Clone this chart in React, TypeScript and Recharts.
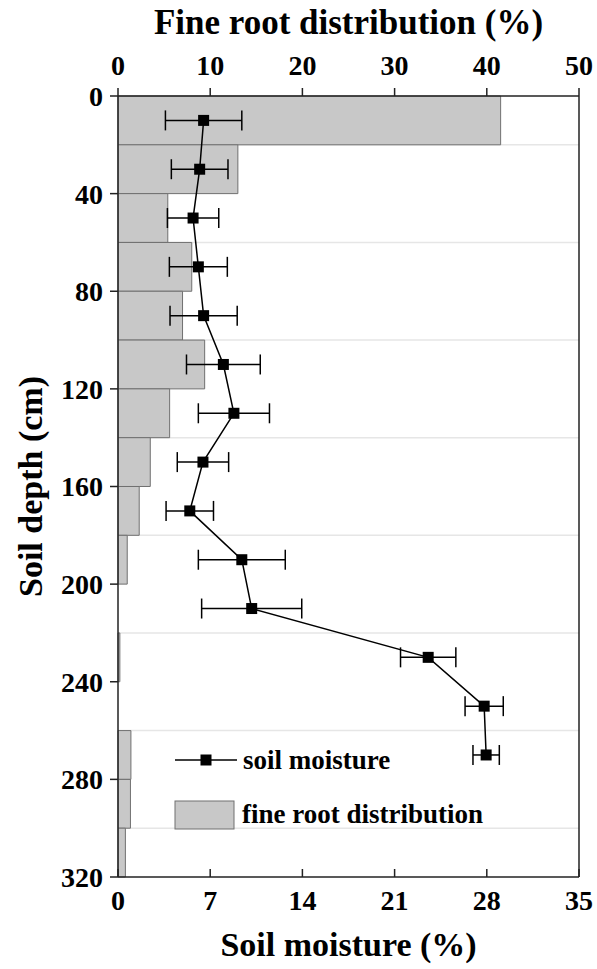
import {
  ComposedChart,
  Bar,
  Line,
  XAxis,
  YAxis,
  ErrorBar,
  CartesianGrid,
  ReferenceLine,
} from 'recharts';

// layer mid depths (cm)
const depths = [10, 30, 50, 70, 90, 110, 130, 150, 170, 190, 210, 230, 250, 270, 290, 310];
// fine root distribution (%) per 20 cm layer
const fineRoot = [41.5, 13.0, 5.4, 8.0, 7.0, 9.4, 5.6, 3.5, 2.3, 1.0, 0, 0.2, 0, 1.4, 1.35, 0.8];
// soil moisture (%) and its error, measured down to 270 cm
const moisture = [6.5, 6.2, 5.7, 6.1, 6.5, 8.0, 8.8, 6.45, 5.45, 9.4, 10.15, 23.55, 27.8, 27.95];
const moistureErr = [2.9, 2.15, 1.95, 2.2, 2.55, 2.8, 2.7, 1.95, 1.8, 3.3, 3.8, 2.1, 1.45, 1.0];

const depthTicks = [0, 40, 80, 120, 160, 200, 240, 280, 320];
const gridDepths = [20, 60, 100, 140, 180, 220, 260, 300];
const rootTicks = [0, 10, 20, 30, 40, 50];
const moistTicks = [0, 7, 14, 21, 28, 35];

const data = depths.map((d, i) => ({
  depth: d,
  root: fineRoot[i],
  moisture: moisture[i],
  err: moistureErr[i],
}));

const FONT = '"Liberation Serif", "Times New Roman", serif';
const tickStyle = { fontSize: 28, fontWeight: 'bold', fill: '#000', fontFamily: FONT };
const labelStyle = { fontSize: 34, fontWeight: 'bold', fill: '#000', fontFamily: FONT };
const axisStroke = { stroke: '#222', strokeWidth: 1.5 };

const SquareDot = (props: any) => {
  const { cx, cy } = props;
  if (cx == null || cy == null || Number.isNaN(cx)) return null;
  return <rect x={cx - 5.5} y={cy - 5.5} width={11} height={11} fill="#000" />;
};

export default function App() {
  return (
    <div style={{ position: 'absolute', left: 0, top: 0, width: 597, height: 969, background: '#fff' }}>
      <ComposedChart
        width={597}
        height={969}
        data={data}
        layout="vertical"
        margin={{ top: 0, right: 18, bottom: 0, left: 0 }}
        style={{ fontFamily: FONT }}
      >
        <CartesianGrid horizontal vertical={false} horizontalValues={gridDepths} stroke="#e6e6e6" strokeWidth={1.5} />
        <XAxis
          xAxisId="root"
          orientation="top"
          type="number"
          domain={[0, 50]}
          ticks={rootTicks}
          height={96}
          tickSize={8}
          tickMargin={13}
          tick={tickStyle}
          axisLine={axisStroke}
          tickLine={axisStroke}
          label={{
            value: 'Fine root distribution (%)',
            position: 'insideTop',
            offset: 9,
            style: { ...labelStyle, fontSize: 35 },
          }}
        />
        <XAxis
          xAxisId="moist"
          orientation="bottom"
          type="number"
          domain={[0, 35]}
          ticks={moistTicks}
          height={92}
          tickSize={-8}
          tickMargin={21}
          tick={tickStyle}
          axisLine={axisStroke}
          tickLine={axisStroke}
          label={{ value: 'Soil moisture (%)', position: 'insideBottom', offset: 13, style: labelStyle }}
        />
        <YAxis
          dataKey="depth"
          type="number"
          domain={[0, 320]}
          ticks={depthTicks}
          width={118}
          tickSize={8}
          tickMargin={7}
          tick={tickStyle}
          axisLine={axisStroke}
          tickLine={axisStroke}
          label={{
            value: 'Soil depth (cm)',
            angle: -90,
            position: 'insideLeft',
            offset: 30,
            style: { ...labelStyle, textAnchor: 'middle' },
          }}
        />
        <Bar
          xAxisId="root"
          dataKey="root"
          barSize={48.8}
          fill="#c8c8c8"
          stroke="#707070"
          strokeWidth={1}
          isAnimationActive={false}
        />
        <ReferenceLine xAxisId="root" x={50} stroke="#222" strokeWidth={1.5} />
        <Line
          xAxisId="moist"
          dataKey="moisture"
          stroke="#000"
          strokeWidth={1.5}
          dot={<SquareDot />}
          activeDot={false}
          isAnimationActive={false}
        >
          <ErrorBar dataKey="err" direction="x" width={10} stroke="#000" strokeWidth={1.5} />
        </Line>
      </ComposedChart>
      <svg
        width={340}
        height={100}
        style={{ position: 'absolute', left: 150, top: 740, overflow: 'visible' }}
      >
        <line x1={25} y1={20} x2={87} y2={20} stroke="#000" strokeWidth={1.5} />
        <rect x={50.5} y={14.5} width={11} height={11} fill="#000" />
        <text x={93} y={29} fontSize={27} fontWeight="bold" fontFamily={FONT}>soil moisture</text>
        <rect x={25} y={61} width={59} height={28} fill="#c8c8c8" stroke="#707070" strokeWidth={1} />
        <text x={92} y={83} fontSize={27} fontWeight="bold" fontFamily={FONT}>fine root distribution</text>
      </svg>
    </div>
  );
}
